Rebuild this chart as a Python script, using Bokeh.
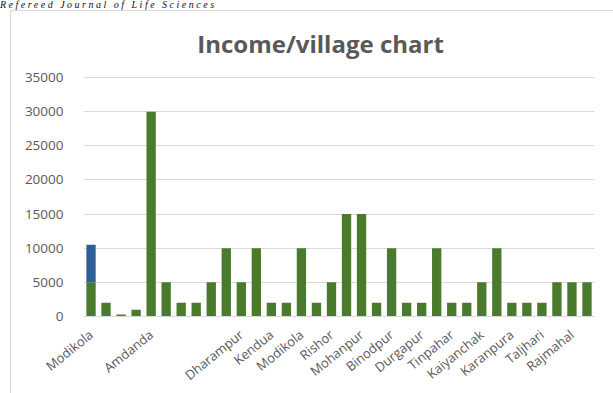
from bokeh.plotting import figure
from bokeh.models import Range1d, FixedTicker, Div, Spacer, ColumnDataSource, Label
from bokeh.layouts import column, row
from bokeh.embed import file_html
from bokeh.resources import INLINE

# ---- data ----
villages = ["Modikola", "", "", "", "Amdanda", "", "", "", "", "", "Dharampur", "",
            "Kendua", "", "Modikola", "", "Rishor", "", "Mohanpur", "", "Binodpur", "",
            "Durgapur", "", "Tinpahar", "", "Kaiyanchak", "", "Karanpura", "", "Taljhari", "",
            "Rajmahal", ""]
income_green = [5000, 2000, 300, 1000, 30000, 5000, 2000, 2000, 5000, 10000, 5000, 10000,
                2000, 2000, 10000, 2000, 5000, 15000, 15000, 2000, 10000, 2000, 2000, 10000,
                2000, 2000, 5000, 10000, 2000, 2000, 2000, 5000, 5000, 5000]
income_blue = [5500] + [0] * 33
y_ticks = [0, 5000, 10000, 15000, 20000, 25000, 30000, 35000]
title_text = "Income/village chart"
header_text = "Refereed Journal of Life Sciences"

n = len(income_green)
xs = list(range(1, n + 1))
src = ColumnDataSource(dict(x=xs, green=income_green, blue=income_blue))

# frame extends above the 35000 line so the title can sit inside it
Y_TOP = 43200
W, H = 603, 383
p = figure(width=W, height=H, output_backend="svg", toolbar_location=None,
           x_range=Range1d(0.5, n + 0.5), y_range=Range1d(0, Y_TOP),
           min_border_left=72, min_border_right=20, min_border_top=10, min_border_bottom=78)
p.margin = (0, 0, 0, 0)
p.styles = {"border-left": "1px solid #d9d9d9", "border-top": "1px solid #d9d9d9"}
p.outline_line_color = None
p.background_fill_color = "white"
p.border_fill_color = "white"

p.add_layout(Label(x=16.27, y=39980, text=title_text, text_align="center",
                   text_baseline="middle", text_font="Open Sans", text_font_style="bold",
                   text_font_size="24px", text_color="#595959"))

p.vbar_stack(["green", "blue"], x="x", width=0.62, source=src,
             color=["#4a7a2b", "#2f5f96"], line_color=None)

# axes
p.yaxis.ticker = FixedTicker(ticks=y_ticks)
p.yaxis.axis_line_color = None
p.yaxis.major_tick_line_color = None
p.yaxis.minor_tick_line_color = None
p.yaxis.major_label_text_font = "Open Sans"
p.yaxis.major_label_text_font_size = "13.5px"
p.yaxis.major_label_text_color = "#595959"
p.yaxis.major_label_standoff = 14

label_pos = [x for x, v in zip(xs, villages) if v]
p.xaxis.ticker = FixedTicker(ticks=label_pos)
p.xaxis.major_label_overrides = {x: v for x, v in zip(xs, villages) if v}
p.xaxis.major_label_orientation = 0.68
p.xaxis.axis_line_color = "#d9d9d9"
p.xaxis.major_tick_line_color = None
p.xaxis.minor_tick_line_color = None
p.xaxis.major_label_text_font = "Open Sans"
p.xaxis.major_label_text_font_size = "13px"
p.xaxis.major_label_text_color = "#595959"
p.xaxis.major_label_standoff = 10

p.xgrid.grid_line_color = None
p.ygrid.ticker = FixedTicker(ticks=y_ticks)
p.ygrid.grid_line_color = "#d9d9d9"
p.ygrid.grid_line_width = 1

header = Div(text=header_text, width=613, height=10, margin=(0, 0, 0, 0),
             styles={"font-family": "Liberation Serif", "font-style": "italic",
                     "font-size": "10px", "line-height": "10px", "color": "#111",
                     "letter-spacing": "2.5px", "white-space": "nowrap"})

spacer = Spacer(width=10, height=H, margin=(0, 0, 0, 0))
layout = column(header, row(spacer, p, spacing=0, margin=(0, 0, 0, 0)),
                spacing=0, margin=(0, 0, 0, 0))

open("out.html", "w").write(file_html(layout, INLINE))
